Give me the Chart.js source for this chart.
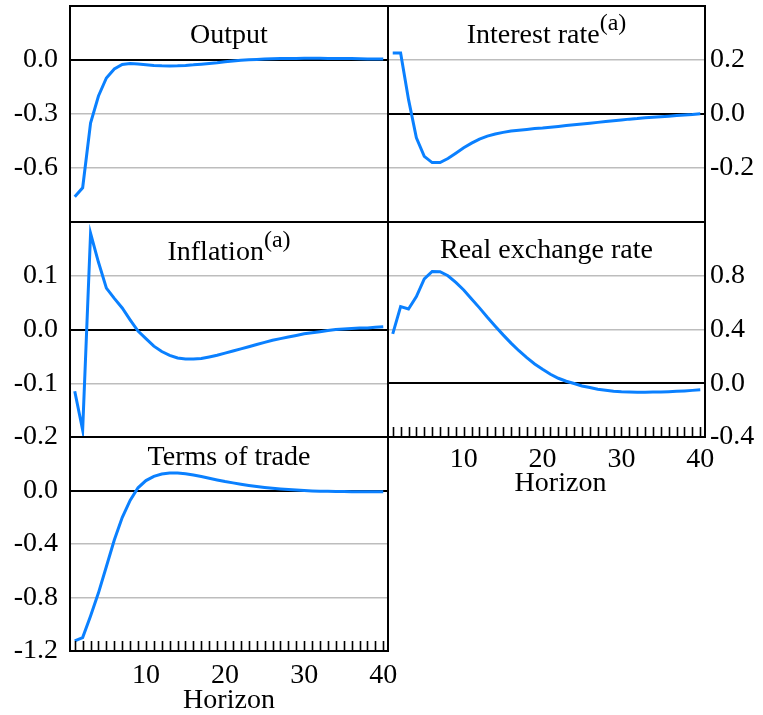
<!DOCTYPE html>
<html>
<head>
<meta charset="utf-8">
<title>Impulse responses</title>
<script src="https://cdn.jsdelivr.net/npm/chart.js@4.4.1/dist/chart.umd.min.js"></script>
<style>
  html, body { margin: 0; padding: 0; background: #fff; overflow: hidden; }
  body { width: 763px; height: 715px; position: relative; }
  canvas { position: absolute; display: block; }
</style>
</head>
<body>
<canvas id="outputChart" width="410" height="280" style="left:0;top:-26px"></canvas>
<canvas id="inflationChart" width="410" height="279" style="left:0;top:190px"></canvas>
<canvas id="termsChart" width="410" height="316" style="left:0;top:405px"></canvas>
<canvas id="interestChart" width="379" height="280" style="left:384px;top:-26px"></canvas>
<canvas id="rerChart" width="379" height="317" style="left:384px;top:190px"></canvas>

<script>
// Horizon (quarters) on the x axis
const horizon = [1, 2, 3, 4, 5, 6, 7, 8, 9, 10, 11, 12, 13, 14, 15, 16, 17, 18, 19, 20,
                 21, 22, 23, 24, 25, 26, 27, 28, 29, 30, 31, 32, 33, 34, 35, 36, 37, 38, 39, 40];
const xTickValues = [10, 20, 30, 40];

// Responses
const outputVals = [-0.76, -0.71, -0.35, -0.20, -0.10, -0.05, -0.025, -0.02, -0.022, -0.026,
                    -0.030, -0.032, -0.033, -0.032, -0.030, -0.027, -0.023, -0.019, -0.015, -0.010,
                    -0.006, -0.002, 0.001, 0.003, 0.005, 0.007, 0.008, 0.009, 0.009, 0.010,
                    0.010, 0.010, 0.009, 0.009, 0.008, 0.008, 0.007, 0.006, 0.006, 0.005];
const interestVals = [0.226, 0.226, 0.054, -0.088, -0.157, -0.180, -0.180, -0.165, -0.145, -0.125,
                      -0.108, -0.093, -0.082, -0.074, -0.068, -0.063, -0.060, -0.057, -0.054, -0.052,
                      -0.049, -0.046, -0.043, -0.040, -0.037, -0.034, -0.031, -0.028, -0.025, -0.022,
                      -0.019, -0.017, -0.014, -0.012, -0.010, -0.008, -0.006, -0.004, -0.002, 0.001];
const inflationVals = [-0.115, -0.187, 0.179, 0.125, 0.077, 0.058, 0.040, 0.018, -0.003, -0.017,
                       -0.031, -0.041, -0.048, -0.053, -0.055, -0.055, -0.054, -0.051, -0.048, -0.044,
                       -0.040, -0.036, -0.032, -0.028, -0.024, -0.020, -0.017, -0.014, -0.011, -0.008,
                       -0.006, -0.004, -0.002, 0.000, 0.001, 0.002, 0.003, 0.003, 0.004, 0.005];
const rerVals = [0.368, 0.571, 0.553, 0.645, 0.776, 0.832, 0.830, 0.800, 0.750, 0.694,
                 0.627, 0.561, 0.491, 0.425, 0.360, 0.299, 0.242, 0.190, 0.143, 0.104,
                 0.067, 0.037, 0.015, -0.002, -0.020, -0.032, -0.044, -0.052, -0.059, -0.064,
                 -0.066, -0.067, -0.067, -0.066, -0.065, -0.063, -0.060, -0.057, -0.053, -0.049];
const termsVals = [-1.124, -1.100, -0.938, -0.765, -0.568, -0.370, -0.202, -0.074, 0.020, 0.074,
                   0.106, 0.123, 0.131, 0.131, 0.126, 0.116, 0.104, 0.091, 0.079, 0.067,
                   0.057, 0.047, 0.038, 0.030, 0.023, 0.017, 0.012, 0.007, 0.003, 0.000,
                   -0.003, -0.005, -0.006, -0.007, -0.008, -0.009, -0.010, -0.010, -0.010, -0.010];

// Labelled y ticks for each panel
const outputTicks = [-0.6, -0.3, 0.0];
const interestTicks = [-0.2, 0.0, 0.2];
const inflationTicks = [-0.2, -0.1, 0.0, 0.1];
const rerTicks = [-0.4, 0.0, 0.4, 0.8];
const termsTicks = [-1.2, -0.8, -0.4, 0.0];

const SERIF = "'Liberation Serif', 'Times New Roman', Times, serif";
const LINE_BLUE = '#0a80ff';

Chart.defaults.font.family = SERIF;
Chart.defaults.color = '#000';

// frame, panel title, inner tick marks and "Horizon" label
const panelPlugin = {
    id: 'panel',
    afterDraw(chart, args, opts) {
        const { ctx, chartArea: a } = chart;
        const xs = chart.scales.x;
        ctx.save();

        // inner tick marks along the bottom
        if (opts.tickMarks) {
            ctx.strokeStyle = '#000';
            ctx.lineWidth = 1.6;
            ctx.beginPath();
            horizon.forEach(h => {
                const px = Math.round(xs.getPixelForValue(h)) + 0.5;
                ctx.moveTo(px, a.bottom);
                ctx.lineTo(px, a.bottom - 10);
            });
            ctx.stroke();
        }

        // frame
        ctx.strokeStyle = '#000';
        ctx.lineWidth = 2;
        ctx.strokeRect(a.left, a.top, a.right - a.left, a.bottom - a.top);

        // title with optional superscript
        ctx.fillStyle = '#000';
        ctx.textAlign = 'left';
        ctx.textBaseline = 'alphabetic';
        ctx.font = `28px ${SERIF}`;
        const mainW = ctx.measureText(opts.title).width;
        let supW = 0;
        if (opts.sup) {
            ctx.font = `24px ${SERIF}`;
            supW = ctx.measureText(opts.sup).width;
        }
        const x0 = (a.left + a.right) / 2 - (mainW + supW) / 2;
        const by = a.top + opts.titleY;
        ctx.font = `28px ${SERIF}`;
        ctx.fillText(opts.title, x0, by);
        if (opts.sup) {
            ctx.font = `24px ${SERIF}`;
            ctx.fillText(opts.sup, x0 + mainW, by - 13);
        }

        // axis title
        if (opts.xTitle) {
            ctx.font = `28px ${SERIF}`;
            ctx.textAlign = 'center';
            ctx.fillText(opts.xTitle, (a.left + a.right) / 2 + (opts.xTitleDx || 0), a.bottom + opts.xTitleY);
        }
        ctx.restore();
    }
};

function makePanel(id, values, yTicks, cfg) {
    const el = document.getElementById(id);
    const right = cfg.side === 'right';
    const xScale = {
        type: 'linear',
        min: 0.4,
        max: 40.6,
        display: !!cfg.bottom,
        grid: { display: false },
        border: { display: false },
        afterBuildTicks: s => { s.ticks = xTickValues.map(v => ({ value: v })); },
        ticks: {
            font: { size: 28 },
            padding: cfg.xPad,
            maxRotation: 0,
            callback: v => v,
        }
    };
    if (cfg.bottom) xScale.afterFit = s => { s.height = 70; };

    return new Chart(el, {
        type: 'line',
        data: {
            datasets: [{
                data: horizon.map((h, i) => ({ x: h, y: values[i] })),
                borderColor: LINE_BLUE,
                borderWidth: 3,
                pointRadius: 0,
                tension: 0,
                fill: false,
            }]
        },
        options: {
            responsive: false,
            devicePixelRatio: 1,
            animation: false,
            layout: {
                padding: {
                    top: 32,
                    bottom: cfg.bottom ? 0 : 32,
                    left: right ? 4 : 0,
                    right: right ? 0 : 22,
                }
            },
            plugins: {
                legend: { display: false },
                tooltip: { enabled: false },
                panel: {
                    title: cfg.title,
                    sup: cfg.sup,
                    titleY: cfg.titleY,
                    tickMarks: !!cfg.bottom,
                    xTitle: cfg.bottom ? 'Horizon' : null,
                    xTitleY: cfg.xTitleY,
                    xTitleDx: cfg.xTitleDx,
                }
            },
            scales: {
                x: xScale,
                y: {
                    type: 'linear',
                    position: right ? 'right' : 'left',
                    min: cfg.min,
                    max: cfg.max,
                    afterBuildTicks: s => { s.ticks = yTicks.map(v => ({ value: v })); },
                    afterFit: s => { s.width = right ? 58 : 70; },
                    border: { display: false },
                    grid: {
                        drawTicks: false,
                        color: c => (c.tick && c.tick.value === 0 ? '#000' : '#bdbdbd'),
                        lineWidth: c => (c.tick && c.tick.value === 0 ? 2 : 1.5),
                    },
                    ticks: {
                        font: { size: 28 },
                        padding: right ? 5 : 12,
                        callback: v => v.toFixed(1),
                    }
                }
            }
        },
        plugins: [panelPlugin]
    });
}

makePanel('outputChart', outputVals, outputTicks,
    { side: 'left', min: -0.9, max: 0.3, title: 'Output', titleY: 37 });
makePanel('inflationChart', inflationVals, inflationTicks,
    { side: 'left', min: -0.2, max: 0.2, title: 'Inflation', sup: '(a)', titleY: 38 });
makePanel('termsChart', termsVals, termsTicks,
    { side: 'left', min: -1.2, max: 0.4, title: 'Terms of trade', titleY: 28,
      bottom: true, xPad: 0, xTitleY: 57 });
makePanel('interestChart', interestVals, interestTicks,
    { side: 'right', min: -0.4, max: 0.4, title: 'Interest rate', sup: '(a)', titleY: 37 });
makePanel('rerChart', rerVals, rerTicks,
    { side: 'right', min: -0.4, max: 1.2, title: 'Real exchange rate', titleY: 36,
      bottom: true, xPad: -2, xTitleY: 54, xTitleDx: 14 });
</script>
</body>
</html>
